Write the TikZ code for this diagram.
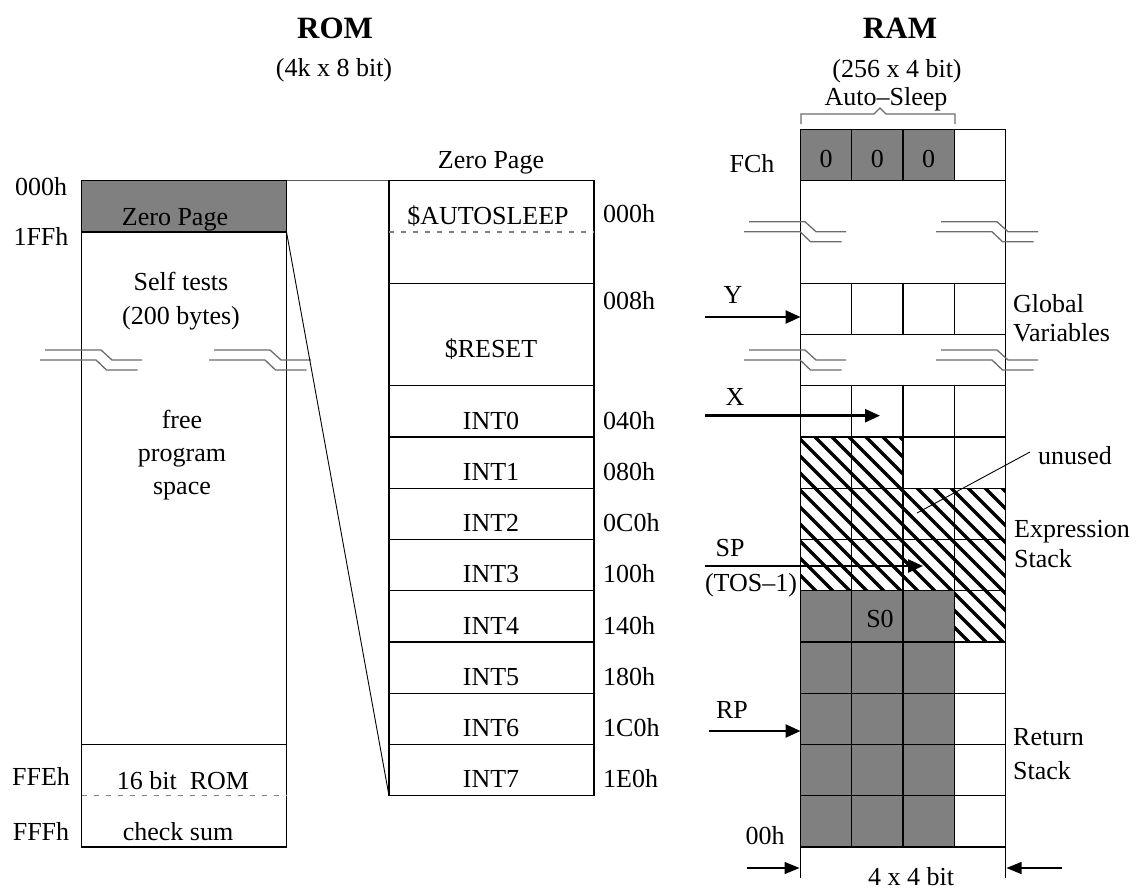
\documentclass[tikz,border=0pt]{standalone}
\usepackage{fontspec}
\setmainfont{Liberation Serif}
\usetikzlibrary{arrows.meta}
\newcommand\brkmark[2]{%
  \draw[brk] (#1,#2) -- ++(56,0) -- ++(11,10) -- ++(30,0);
  \draw[brk] (#1-5,#2+10) -- ++(56,0) -- ++(10.5,10) -- ++(31,0);}
\begin{document}
\begin{tikzpicture}[x=1pt,y=-1pt,
  lbl/.style={inner sep=0pt, anchor=base, font=\fontsize{26}{30}\selectfont},
  lblw/.style={lbl, anchor=base west},
  ttl/.style={inner sep=0pt, anchor=base, font=\fontsize{31}{36}\selectfont\bfseries},
  box/.style={draw=black, line width=1.4pt},
  gridln/.style={draw=black, line width=1.2pt},
  thinln/.style={draw=black, line width=0.9pt},
  dsh/.style={draw=gray, line width=1.1pt, dash pattern=on 5pt off 7pt},
  brk/.style={draw=gray!85!black, line width=1.3pt},
  ptr/.style={line width=2.5pt, -{Triangle[length=15pt,width=13pt]}},
  dimarrow/.style={line width=1.2pt, -{Triangle[length=15pt,width=12pt]}},
  hatchln/.style={line width=3.4pt, black},
]
\useasboundingbox (0,0) rectangle (1140,889);

% ---------- titles ----------
\node[ttl] (romT) at (335,38) {ROM};
\node[lbl] (romS) at (334,76) {(4k x 8 bit)};
\node[ttl] (ramT) at (900,38) {RAM};
\node[lbl] (ramS) at (897,77) {(256 x 4 bit)};
\node[lbl] (autoS) at (886,105) {Auto--Sleep};
\draw[brk, line width=1.1pt] (801,124) -- (801,114) -- (874,114) -- (880,108) -- (886,114) -- (955,114) -- (955,124);

% ---------- ROM ----------
\fill[gray] (81.5,180.75) rectangle (286.5,232);
\draw[box] (81.5,180.75) rectangle (286.5,847);
\draw[box] (81.5,232) -- (286.5,232);
\draw[box] (81.5,744.5) -- (286.5,744.5);
\draw[dsh] (81.5,795.75) -- (286.5,795.75);
\node[lbl] (a000) at (41,195) {000h};
\node[lbl] (a1FF) at (41,245) {1FFh};
\node[lbl] (aFFE) at (41,785) {FFEh};
\node[lbl] (aFFF) at (41,840) {FFFh};
\node[lbl] (zp) at (175,225) {Zero Page};
\node[lbl] (st1) at (181,290) {Self tests};
\node[lbl] (st2) at (181,324) {(200 bytes)};
\node[lbl] (fp1) at (182,428) {free};
\node[lbl] (fp2) at (182,461) {program};
\node[lbl] (fp3) at (182,494) {space};
\node[lbl] (r16) at (183,789) {16 bit\ \ ROM};
\node[lbl] (cks) at (178,840) {check sum};
\brkmark{45}{350}
\brkmark{214}{350}

% ---------- zero page table ----------
\coordinate (zpTR) at (286.5,180.75);
\coordinate (zpBR) at (286.5,232);
\coordinate (tbTL) at (389,180.75);
\coordinate (tbBL) at (389,795.75);
\draw[thinln, draw=gray!70!black] (zpTR) -- (tbTL);
\draw[thinln] (zpBR) -- (tbBL);
\node[lbl] (zpT) at (491,168) {Zero Page};
\draw[box] (389,180.75) rectangle (594,795.75);
\draw[dsh] (389,232) -- (594,232);
\foreach \yy in {283.25,385.75,437,488.25,539.5,590.75,642,693.25,744.5}
  \draw[box] (389,\yy) -- (594,\yy);
\node[lbl] (tAS) at (488,224) {\$AUTOSLEEP};
\node[lblw] (t000) at (603,222) {000h};
\node[lblw] (t008) at (603,309) {008h};
\node[lbl] (tRS) at (491,357) {\$RESET};
\foreach \i/\yy/\ad in {0/429/040h,1/480.25/080h,2/531.5/0C0h,3/582.75/100h,4/634/140h,5/685.25/180h,6/736.5/1C0h,7/787.75/1E0h}{
  \node[lbl] (tI\i) at (491,\yy) {INT\i};
  \node[lblw] (tA\i) at (603,\yy) {\ad};
}

% ---------- RAM ----------
\fill[gray] (800.5,129.5) rectangle (954.25,180.75);
\fill[gray] (800.5,590.75) rectangle (954.25,847);
\begin{scope}
  \clip (800.5,437) -- (903,437) -- (903,488.25) -- (1005.5,488.25) -- (1005.5,642)
        -- (954.25,642) -- (954.25,590.75) -- (800.5,590.75) -- cycle;
  \foreach \c in {140,157,...,600}
    \draw[hatchln] (\c+420,420) -- (\c+660,660);
\end{scope}
\draw[box] (800.5,129.5) rectangle (1005.5,847);
\foreach \yy in {180.75,283.25,334.5,385.75,437,488.25,539.5,590.75,642,693.25,744.5,795.75}
  \draw[gridln] (800.5,\yy) -- (1005.5,\yy);
\foreach \xx in {851.75,903,954.25}{
  \draw[gridln] (\xx,129.5) -- (\xx,180.75);
  \draw[gridln] (\xx,283.25) -- (\xx,334.5);
  \draw[gridln] (\xx,385.75) -- (\xx,847);
}
\brkmark{749}{221.7}
\brkmark{941}{221.7}
\brkmark{749}{350}
\brkmark{941}{350}

\node[lbl] (fch) at (752,172) {FCh};
\node[lbl] (z0) at (826.1,167) {0};
\node[lbl] (z1) at (877.4,167) {0};
\node[lbl] (z2) at (928.6,167) {0};
\node[lblw] (gv1) at (1013,312) {Global};
\node[lblw] (gv2) at (1013,341) {Variables};
\node[lblw] (es1) at (1014,537) {Expression};
\node[lblw] (es2) at (1014,567) {Stack};
\node[lblw] (rs1) at (1013,745) {Return};
\node[lblw] (rs2) at (1013,779) {Stack};
\node[lbl] (lY) at (733,303) {Y};
\node[lbl] (lX) at (735,405) {X};
\node[lbl] (lSP) at (730,556) {SP};
\node[lbl] (lTOS) at (751,591) {(TOS--1)};
\node[lbl] (lRP) at (732,718) {RP};
\node[lbl] (l00) at (765,844) {00h};
\node[lbl] (lS0) at (880,627) {S0};
\node[lbl] (lun) at (1075,464) {unused};
\node[lbl] (l44) at (911,885) {4 x 4 bit};

\coordinate (unA) at (1030,452);
\coordinate (unB) at (917,513);
\draw[thinln] (unA) -- (unB);

\coordinate (yS) at (705,317);   \coordinate (yE) at (800.5,317);
\coordinate (xS) at (705,415.7); \coordinate (xE) at (880,415.7);
\coordinate (sS) at (705,566);   \coordinate (sE) at (923,566);
\coordinate (rS) at (709,731);   \coordinate (rE) at (800.5,731);
\draw[ptr] (yS) -- (yE);
\draw[ptr] (xS) -- (xE);
\draw[ptr] (sS) -- (sE);
\draw[ptr] (rS) -- (rE);

\coordinate (dL1) at (747,868);  \coordinate (dL2) at (799.5,868);
\coordinate (dR1) at (1062,868); \coordinate (dR2) at (1006.5,868);
\draw[dimarrow] (dL1) -- (dL2);
\draw[dimarrow] (dR1) -- (dR2);
\draw[thinln, line width=1.1pt] (800.5,847) -- (800.5,878);
\draw[thinln, line width=1.1pt] (1005.5,847) -- (1005.5,878);
\end{tikzpicture}
\end{document}
